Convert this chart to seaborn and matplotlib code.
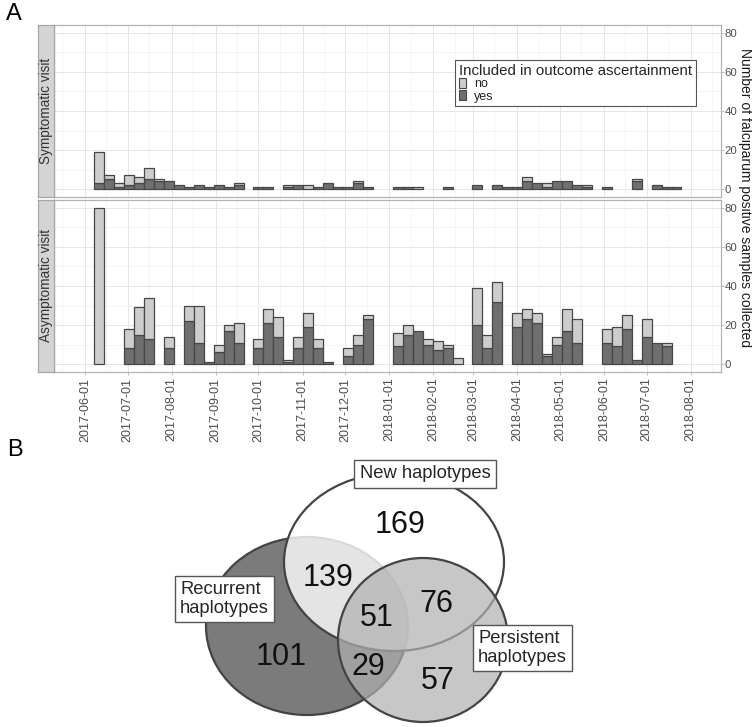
import numpy as np
import pandas as pd
import matplotlib
matplotlib.use("Agg")
import matplotlib.pyplot as plt
import matplotlib.dates as mdates
from matplotlib.patches import Ellipse, Patch
import seaborn as sns

# ---------------- data ----------------
first_week_start = "2017-06-07 12:00"   # start of week index 0

sym_week = [0, 1, 2, 3, 4, 5, 6, 7, 8, 9, 10, 11, 12, 13, 14, 16, 17, 19, 20, 21, 22, 23, 24, 25,
            26, 27, 30, 31, 32, 35, 38, 40, 41, 42, 43, 44, 45, 46, 47, 48, 49, 51, 54, 56, 57, 58]
sym_yes = [3, 5, 1, 2, 3, 5, 4, 4, 2, 1, 2, 1, 2, 1, 2, 1, 1, 1, 2, 0, 1, 3, 1, 1,
           3, 1, 1, 1, 0, 1, 2, 2, 1, 1, 4, 3, 1, 4, 4, 2, 1, 1, 4, 2, 1, 1]
sym_no = [16, 2, 2, 5, 3, 6, 1, 0, 0, 0, 0, 0, 0, 0, 1, 0, 0, 1, 0, 2, 0, 0, 0, 0,
          1, 0, 0, 0, 1, 0, 0, 0, 0, 0, 2, 0, 2, 0, 0, 0, 1, 0, 1, 0, 0, 0]

asym_week = [0, 3, 4, 5, 7, 9, 10, 11, 12, 13, 14, 16, 17, 18, 19, 20, 21, 22, 23, 25, 26, 27,
             30, 31, 32, 33, 34, 35, 36, 38, 39, 40, 42, 43, 44, 45, 46, 47, 48, 51, 52, 53,
             54, 55, 56, 57]
asym_yes = [0, 8, 15, 13, 8, 22, 11, 1, 6, 17, 11, 8, 21, 14, 1, 8, 19, 8, 1, 4, 10, 23,
            9, 15, 17, 10, 7, 8, 0, 20, 8, 32, 19, 23, 21, 4, 10, 17, 11, 11, 9, 18,
            2, 14, 11, 9]
asym_no = [80, 10, 14, 21, 6, 8, 19, 0, 4, 3, 10, 5, 7, 10, 1, 6, 7, 5, 0, 4, 5, 2,
           7, 5, 0, 3, 5, 2, 3, 19, 7, 10, 7, 5, 5, 1, 4, 11, 12, 7, 10, 7,
           0, 9, 0, 2]

panels = ["Symptomatic visit", "Asymptomatic visit"]
inclusion_levels = ["no", "yes"]
legend_title = "Included in outcome ascertainment"
y_label = "Number of falciparum positive samples collected"
y_ticks = [0, 20, 40, 60, 80]

venn_sets = ["New haplotypes", "Recurrent\nhaplotypes", "Persistent\nhaplotypes"]
venn_counts = {"new": 169, "new_rec": 139, "all": 51, "new_per": 76,
               "rec": 101, "rec_per": 29, "per": 57}

# ---------------- styling ----------------
W, H = 752, 727
FONT = ["Liberation Sans", "DejaVu Sans"]
sns.set_theme(style="white")
plt.rcParams["font.family"] = FONT

LIGHT = "#cdcdcd"
DARK = "#6f6f6f"
EDGE = "#474747"
GRID_MAJ = "#e6e6e6"
GRID_MIN = "#f2f2f2"
BORDER = "#b3b3b3"
TICKCOL = "#4d4d4d"

fig = plt.figure(figsize=(W / 100, H / 100), dpi=100)


def fx(px):
    return px / W


def fy(py):
    return 1 - py / H


d0 = mdates.date2num(pd.Timestamp(first_week_start))
n_bins = 59
date_min = mdates.date2num(pd.Timestamp("2017-06-01")) - 21.8
date_max = mdates.date2num(pd.Timestamp("2018-08-01")) + 21.3


def make_df(weeks, yes, no):
    rows = []
    for w, y, n in zip(weeks, yes, no):
        x = d0 + 7 * w + 3.5
        rows.append({"x": x, "inc": "no", "n": float(n)})
        rows.append({"x": x, "inc": "yes", "n": float(y)})
    return pd.DataFrame(rows)


dfs = [make_df(sym_week, sym_yes, sym_no), make_df(asym_week, asym_yes, asym_no)]

panel_tops = [25, 200]
panel_h = 172
left_px, right_px = 54, 721

axes = []
for i, (df, name) in enumerate(zip(dfs, panels)):
    top = panel_tops[i]
    ax = fig.add_axes([fx(left_px), fy(top + panel_h), fx(right_px - left_px), panel_h / H])
    axes.append(ax)
    ax.set_facecolor("white")
    sns.histplot(data=df, x="x", weights="n", hue="inc", hue_order=inclusion_levels,
                 multiple="stack", binwidth=7, binrange=(d0, d0 + 7 * n_bins),
                 palette={"no": LIGHT, "yes": DARK}, alpha=1,
                 edgecolor=EDGE, linewidth=0.9, legend=False, ax=ax, zorder=3)
    for p in ax.patches:
        if p.get_height() <= 0:
            p.set_visible(False)
    ax.set_xlim(date_min, date_max)
    ax.set_ylim(-4.1, 84.1)
    ax.xaxis.set_major_locator(mdates.MonthLocator())
    ax.xaxis.set_minor_locator(mdates.MonthLocator(bymonthday=16))
    ax.set_yticks(y_ticks)
    ax.set_yticks([10, 30, 50, 70], minor=True)
    ax.grid(True, which="major", color=GRID_MAJ, lw=0.7, zorder=0)
    ax.grid(True, which="minor", color=GRID_MIN, lw=0.5, zorder=0)
    ax.set_axisbelow(True)
    for s in ax.spines.values():
        s.set_color(BORDER)
        s.set_linewidth(0.9)
    ax.yaxis.tick_right()
    ax.tick_params(axis="y", which="major", right=True, left=False, length=2, width=0.6,
                   color=BORDER, labelcolor=TICKCOL, labelsize=8.2, pad=0.5)
    ax.tick_params(axis="y", which="minor", length=0)
    ax.tick_params(axis="x", which="minor", length=0)
    ax.set_xlabel("")
    ax.set_ylabel("")
    if i == 0:
        ax.tick_params(axis="x", which="major", bottom=False, labelbottom=False)
    else:
        ax.xaxis.set_major_formatter(mdates.DateFormatter("%Y-%m-%d"))
        ax.tick_params(axis="x", which="major", bottom=True, length=2.5, width=0.6,
                       color=BORDER, labelcolor=TICKCOL, labelsize=9, pad=1.5)
        for lab in ax.get_xticklabels():
            lab.set_rotation(90)
            lab.set_ha("center")
            lab.set_va("top")

    sax = fig.add_axes([fx(38), fy(top + panel_h), fx(left_px - 38), panel_h / H])
    sax.set_facecolor("#d4d4d4")
    sax.set_xticks([])
    sax.set_yticks([])
    for s in sax.spines.values():
        s.set_color("#a6a6a6")
        s.set_linewidth(0.9)
    sax.text(0.5, 0.5, name, rotation=90, ha="center", va="center",
             transform=sax.transAxes, fontsize=9.8, color="#333333")

handles = [Patch(facecolor=LIGHT, edgecolor=EDGE, lw=0.8),
           Patch(facecolor=DARK, edgecolor=EDGE, lw=0.8)]
leg = axes[0].legend(handles, inclusion_levels, title=legend_title,
                     loc="upper left", bbox_to_anchor=(fx(449), fy(54)),
                     bbox_transform=fig.transFigure, frameon=True, fancybox=False,
                     edgecolor="#555555", framealpha=1, fontsize=9, title_fontsize=10.8,
                     handlelength=0.6, handleheight=0.85, labelspacing=0.0,
                     handletextpad=0.6, borderpad=0.3, alignment="left")
leg.get_frame().set_linewidth(0.8)
leg.set_zorder(10)

fig.text(fx(744.5), fy(198), y_label, rotation=270, ha="center", va="center",
         fontsize=10, color="#1a1a1a")

fig.text(fx(6), fy(3), "A", ha="left", va="top", fontsize=17, color="black")
fig.text(fx(7), fy(439), "B", ha="left", va="top", fontsize=17, color="black")

# ---------------- Venn diagram ----------------
vax = fig.add_axes([0, 0, 1, 1], zorder=-1)
vax.set_xlim(0, W)
vax.set_ylim(H, 0)
vax.axis("off")
VEDGE = "#444444"
vax.add_patch(Ellipse((307, 626), 202, 178, facecolor="#7b7b7b", edgecolor=VEDGE, lw=1.6))
vax.add_patch(Ellipse((394, 562), 220, 178, facecolor=(1, 1, 1, 0.8), edgecolor=VEDGE, lw=1.6))
vax.add_patch(Ellipse((423, 640), 170, 164, facecolor=(0.69, 0.69, 0.69, 0.7),
                      edgecolor=VEDGE, lw=1.6))

num_pos = {"new": (400, 525), "new_rec": (328, 578), "all": (377, 618),
           "new_per": (436, 604), "rec": (281, 657), "rec_per": (368, 667),
           "per": (438, 681)}
for k, v in venn_counts.items():
    x, y = num_pos[k]
    vax.text(x, y, str(v), ha="center", va="center", fontsize=22, color="#111111")

box = dict(boxstyle="square,pad=0.3", facecolor="white", edgecolor="#555555", lw=1.0)
vax.text(425, 474, venn_sets[0], ha="center", va="center", fontsize=13.2, bbox=box)
vax.text(180, 599, venn_sets[1], ha="left", va="center", fontsize=13.2, bbox=box,
         linespacing=1.12)
vax.text(478, 648, venn_sets[2], ha="left", va="center", fontsize=13.2, bbox=box,
         linespacing=1.12)

fig.savefig("out.png", dpi=100)
